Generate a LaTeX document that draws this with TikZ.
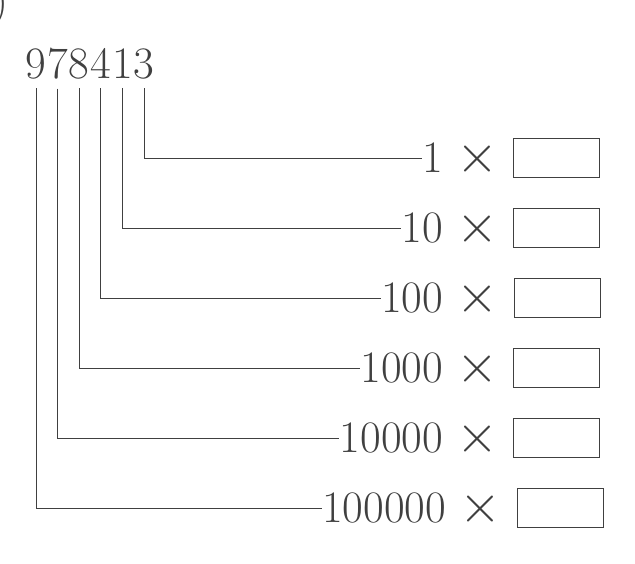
\documentclass[tikz,border=0pt]{standalone}
\usepackage{tikz}
\usetikzlibrary{positioning}
\newcommand{\tms}{\scalebox{1.3}{$\times$}}

\begin{document}
\begin{tikzpicture}[x=0.5pt, y=-0.5pt, font=\fontsize{22.5}{27}\selectfont, line width=0.5pt, black!75,
    digit/.style={inner xsep=0pt, inner ysep=4.5pt},
    lab/.style={inner sep=0pt, text height=14.5pt, text depth=0pt, anchor=east},
    ansbox/.style={draw, minimum width=43pt, minimum height=19.5pt, inner sep=0pt}]
    \useasboundingbox (0,0) rectangle (635,563);
    \node[inner sep=0pt, anchor=base east] (par) at (9,15) {)};
    \node[digit, anchor=base] (d1) at (36,78) {9};
    \node[digit, right=0pt of d1] (d2) {7};
    \node[digit, right=0pt of d2] (d3) {8};
    \node[digit, right=0pt of d3] (d4) {4};
    \node[digit, right=0pt of d4] (d5) {1};
    \node[digit, right=0pt of d5] (d6) {3};
    \node[lab] (l1) at (499,158) {1 \tms};
    \node[lab] (l2) at (499,228) {10 \tms};
    \node[lab] (l3) at (499,298) {100 \tms};
    \node[lab] (l4) at (499,368) {1000 \tms};
    \node[lab] (l5) at (499,438) {10000 \tms};
    \node[lab] (l6) at (502,508) {100000 \tms};
    \node[ansbox] (b1) at (556,158) {};
    \node[ansbox] (b2) at (556,228) {};
    \node[ansbox] (b3) at (557,298) {};
    \node[ansbox] (b4) at (556,368) {};
    \node[ansbox] (b5) at (556,438) {};
    \node[ansbox] (b6) at (560,508) {};
    \draw (d6.south) |- (l1.west); \draw (d5.south) |- (l2.west);
    \draw (d4.south) |- (l3.west); \draw (d3.south) |- (l4.west);
    \draw (d2.south) |- (l5.west); \draw (d1.south) |- (l6.west);
\end{tikzpicture}
\end{document}
